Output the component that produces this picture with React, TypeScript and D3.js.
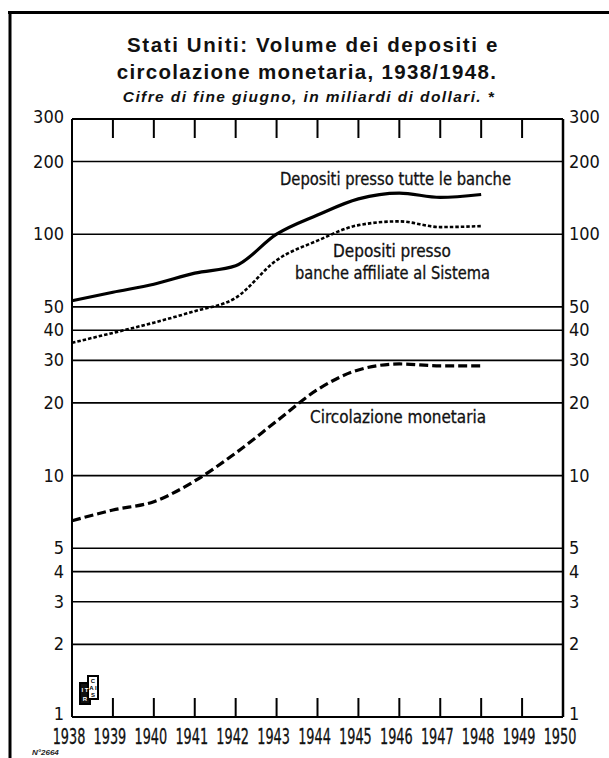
import React from "react";
import * as d3 from "d3";

const years = [1938, 1939, 1940, 1941, 1942, 1943, 1944, 1945, 1946, 1947, 1948];
const totalDeposits = [53, 57.5, 62, 69, 74, 100, 120, 140, 148, 142, 146];
const memberBankDeposits = [35.5, 39, 43, 48, 54.5, 78, 94, 109, 113, 107, 108];
const currency = [6.5, 7.2, 7.8, 9.5, 12.4, 16.8, 22.7, 27.4, 29, 28.5, 28.5];

const xTickYears = [1938, 1939, 1940, 1941, 1942, 1943, 1944, 1945, 1946, 1947, 1948, 1949, 1950];
const yTickValues = [300, 200, 100, 50, 40, 30, 20, 10, 5, 4, 3, 2, 1];
const gridValues = [200, 100, 50, 40, 30, 20, 10, 5, 4, 3, 2];

const titleLines = ["Stati Uniti: Volume dei depositi e", "circolazione monetaria, 1938/1948."];
const subtitle = "Cifre di fine giugno, in miliardi di dollari. *";

const W = 609;
const H = 758;
const L = 72, R = 563, T = 119, B = 717;

const narrow = "'Liberation Sans Narrow', 'DejaVu Sans Condensed', 'Arial Narrow', sans-serif";
const sans = "'Liberation Sans', Arial, Helvetica, sans-serif";

export default function App() {
  const x = d3.scaleLinear().domain([1938, 1950]).range([L, R]);
  const y = d3.scaleLog().domain([1, 300]).range([B, T]);

  const line = d3
    .line<number>()
    .x((_, i) => x(years[i]))
    .y((d) => y(d))
    .curve(d3.curveMonotoneX);

  const fmt = (v: number) => String(v);
  const yLabelY = (v: number) => (v === 1 ? y(v) + 3 : v === 300 ? y(v) + 4 : y(v) + 6);

  return (
    <svg
      width={W}
      height={H}
      viewBox={`0 0 ${W} ${H}`}
      style={{ position: "absolute", left: 0, top: 0, background: "#fff" }}
    >
      <rect x={0} y={0} width={W} height={H} fill="#fff" />
      {/* frame */}
      <line x1={8} x2={W} y1={12.5} y2={12.5} stroke="#000" strokeWidth={3} />
      <line x1={10} x2={10} y1={11} y2={H} stroke="#000" strokeWidth={3} />

      {/* titles */}
      <g fontFamily={sans} fontWeight="bold" textAnchor="middle" fill="#111">
        <text x={313} y={52} fontSize={20.5} letterSpacing={1.6}>
          {titleLines[0]}
        </text>
        <text x={307} y={79} fontSize={20.5} letterSpacing={1.3}>
          {titleLines[1]}
        </text>
        <text x={309} y={102} fontSize={15.5} fontStyle="italic" letterSpacing={1.4}>
          {subtitle}
        </text>
      </g>

      {/* grid lines */}
      <g stroke="#000" strokeWidth={1.6}>
        {gridValues.map((v) => (
          <line key={v} x1={L} x2={R} y1={y(v)} y2={y(v)} />
        ))}
        <line x1={L} x2={R} y1={y(300)} y2={y(300)} strokeWidth={1.8} />
        <line x1={L} x2={R} y1={y(1)} y2={y(1)} strokeWidth={2} />
        <line x1={L} x2={L} y1={T} y2={B} strokeWidth={2} />
        <line x1={R} x2={R} y1={T} y2={B} strokeWidth={2.5} />
      </g>

      {/* ticks top and bottom */}
      <g stroke="#000" strokeWidth={2}>
        {xTickYears.slice(1, -1).map((yr) => (
          <g key={yr}>
            <line x1={x(yr)} x2={x(yr)} y1={T} y2={T + 19} />
            <line x1={x(yr)} x2={x(yr)} y1={B} y2={B - 19} />
          </g>
        ))}
      </g>

      {/* y labels */}
      <g fontFamily={narrow} fontSize={18} fill="#111">
        {yTickValues.map((v) => (
          <text key={"l" + v} x={64} y={yLabelY(v)} textAnchor="end">
            {fmt(v)}
          </text>
        ))}
        {yTickValues.map((v) => (
          <text key={"r" + v} x={569} y={yLabelY(v)} textAnchor="start">
            {fmt(v)}
          </text>
        ))}
      </g>

      {/* x labels */}
      <g fontFamily={narrow} fontSize={21} fill="#111" stroke="#111" strokeWidth={0.3}>
        {xTickYears.map((yr) => (
          <text
            key={yr}
            transform={`translate(${x(yr) - 3},${744}) scale(0.68,1)`}
            textAnchor="middle"
          >
            {yr}
          </text>
        ))}
      </g>

      {/* series */}
      <path d={line(totalDeposits) || ""} fill="none" stroke="#000" strokeWidth={3.2} />
      <path
        d={line(memberBankDeposits) || ""}
        fill="none"
        stroke="#000"
        strokeWidth={2.6}
        strokeDasharray="3.5,2"
      />
      <path
        d={line(currency) || ""}
        fill="none"
        stroke="#000"
        strokeWidth={3.2}
        strokeDasharray="9,4"
      />

      {/* series labels */}
      <g fontFamily={narrow} fontSize={17} fill="#111" stroke="#111" strokeWidth={0.3}>
        <text x={280} y={185} textLength={231} lengthAdjust="spacingAndGlyphs">
          Depositi presso tutte le banche
        </text>
        <text x={333} y={257}>Depositi presso</text>
        <text x={295} y={279} textLength={195} lengthAdjust="spacingAndGlyphs">
          banche affiliate al Sistema
        </text>
        <text x={310} y={423} textLength={176} lengthAdjust="spacingAndGlyphs">
          Circolazione monetaria
        </text>
      </g>

      {/* logo */}
      <g>
        <rect x={80} y={683} width={10} height={21} fill="#111" stroke="#000" strokeWidth={2} />
        <rect x={88} y={676} width={10} height={23} fill="#fff" stroke="#000" strokeWidth={2} />
        <g fontFamily={sans} fontSize={6} fontWeight="bold" textAnchor="middle">
          <text x={93} y={683} fill="#000">C</text>
          <text x={93} y={690} fill="#000">A I</text>
          <text x={93} y={697} fill="#000">S</text>
          <text x={85} y={692} fill="#fff">I T</text>
          <text x={85} y={701} fill="#fff">R</text>
        </g>
      </g>

      {/* plate number */}
      <text x={32} y={755} fontFamily={sans} fontSize={8} fontStyle="italic" fontWeight="bold" fill="#222">
        N°2664
      </text>
    </svg>
  );
}
